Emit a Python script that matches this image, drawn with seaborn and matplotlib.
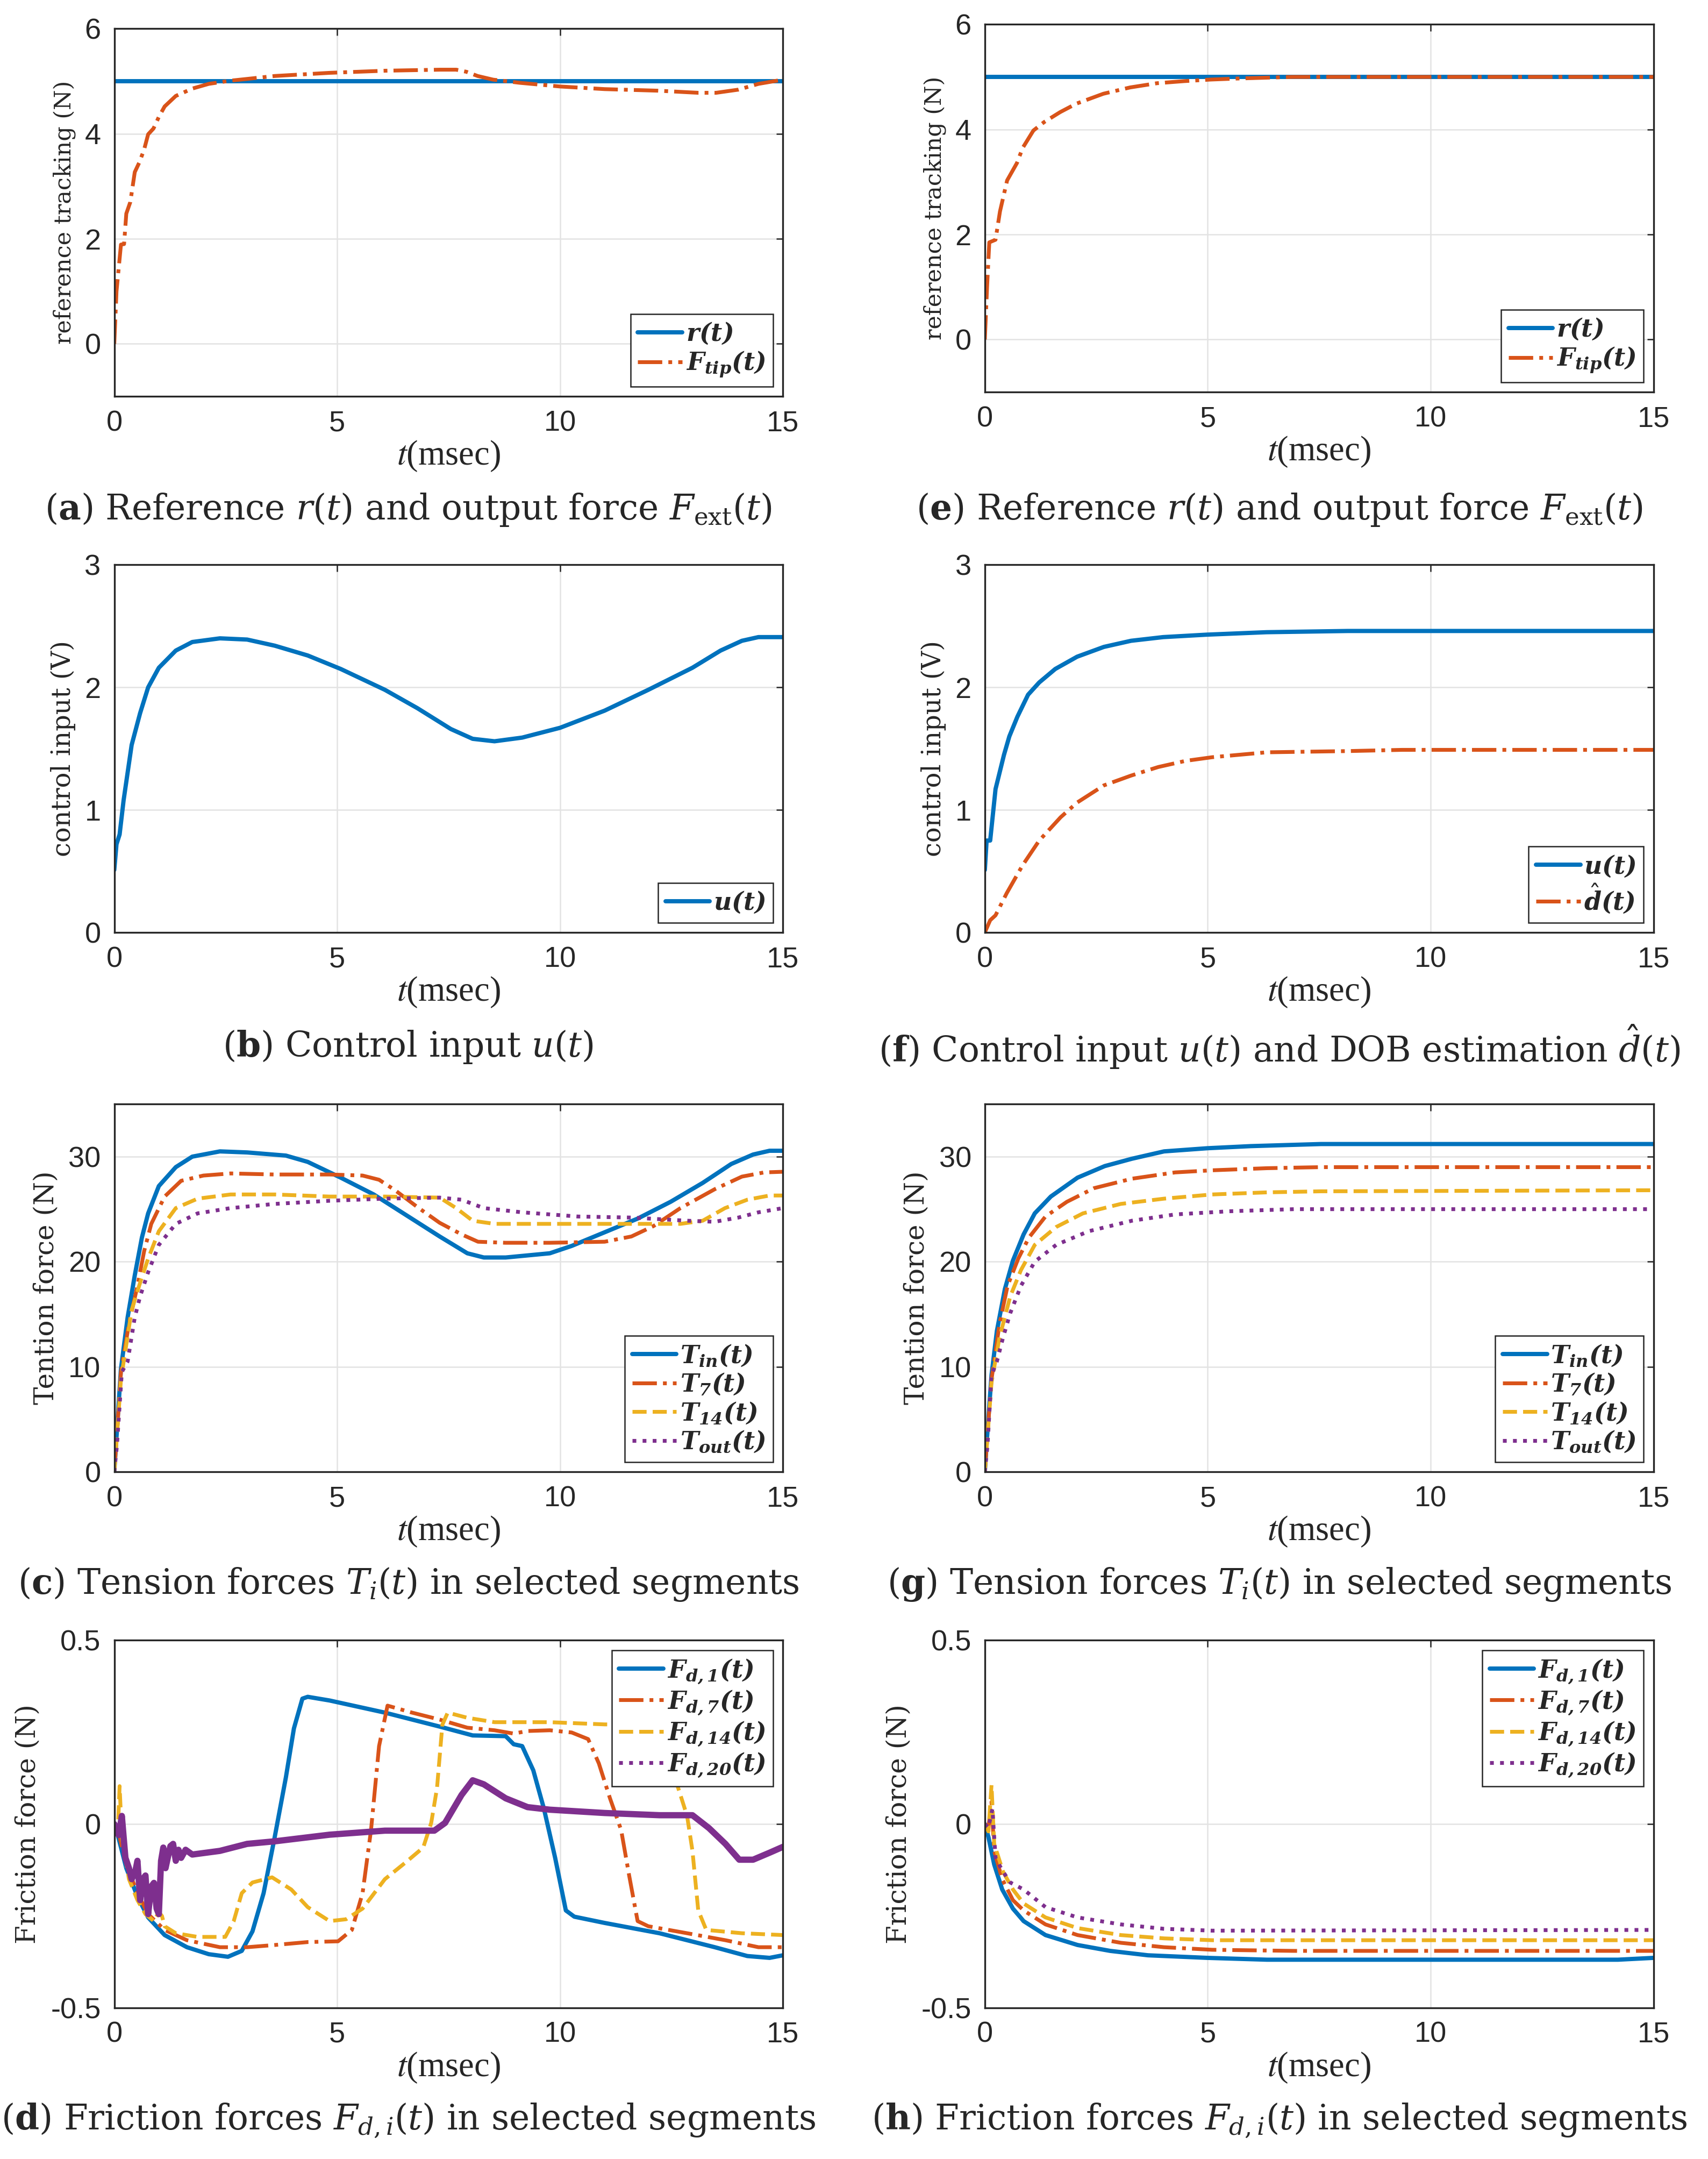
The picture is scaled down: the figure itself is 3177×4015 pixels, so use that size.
import numpy as np
import pandas as pd
import matplotlib
matplotlib.use("Agg")
import matplotlib.pyplot as plt
import seaborn as sns
from matplotlib.ticker import FuncFormatter

# ---- colours (MATLAB default order) ----
BLUE = "#0072BD"
ORANGE = "#D95319"
YELLOW = "#EDB120"
PURPLE = "#7E2F8E"

# ---- (a) reference tracking, case 1 ----
a_t_ref = [0, 15]
a_ref = [5, 5]
a_t_tip = [0, 0.05, 0.15, 0.22, 0.27, 0.36, 0.46, 0.56, 0.67, 0.76, 0.88, 1.0, 1.13, 1.38, 1.75, 2.12, 2.6,
           3.6, 4.83, 6.07, 7.3, 7.67, 7.9, 8.15, 8.5, 9.1, 10.0, 11.0, 12.2, 13.1, 13.5, 14.0, 14.45, 15.0]
a_tip = [0, 1.0, 1.89, 1.9, 2.48, 2.7, 3.27, 3.45, 3.7, 3.99, 4.1, 4.32, 4.52, 4.72, 4.86, 4.95, 5.01,
         5.1, 5.16, 5.2, 5.22, 5.22, 5.18, 5.1, 5.03, 4.97, 4.9, 4.85, 4.82, 4.78, 4.78, 4.84, 4.95, 5.03]

# ---- (e) reference tracking, case 2 ----
e_t_ref = [0, 15]
e_ref = [5, 5]
e_t_tip = [0, 0.05, 0.1, 0.24, 0.34, 0.5, 0.72, 0.85, 1.09, 1.33, 1.69, 2.05, 2.66, 3.26, 3.86, 4.47,
           5.07, 5.68, 6.9, 8.0, 15.0]
e_tip = [0, 1.0, 1.85, 1.9, 2.44, 3.03, 3.36, 3.65, 3.98, 4.14, 4.33, 4.49, 4.68, 4.8, 4.88, 4.92,
         4.95, 4.97, 5.0, 5.0, 5.0]

# ---- (b) control input, case 1 ----
b_t = [0, 0.05, 0.12, 0.21, 0.39, 0.58, 0.76, 1.0, 1.38, 1.75, 2.37, 2.98, 3.6, 4.34, 5.08, 6.07, 6.8,
       7.55, 8.04, 8.53, 9.15, 10.0, 11.0, 11.98, 12.97, 13.6, 14.08, 14.45, 15.0]
b_u = [0.51, 0.72, 0.8, 1.08, 1.53, 1.79, 2.0, 2.16, 2.3, 2.37, 2.4, 2.39, 2.34, 2.26, 2.15, 1.98, 1.83,
       1.66, 1.58, 1.56, 1.59, 1.67, 1.81, 1.98, 2.16, 2.3, 2.38, 2.41, 2.41]

# ---- (f) control input and DOB estimate, case 2 ----
f_t_u = [0, 0.04, 0.12, 0.24, 0.43, 0.55, 0.73, 0.97, 1.22, 1.58, 2.07, 2.67, 3.28, 4.0, 4.98, 6.32,
         8.14, 15.0]
f_u = [0.51, 0.75, 0.75, 1.17, 1.45, 1.6, 1.76, 1.94, 2.04, 2.15, 2.25, 2.33, 2.38, 2.41, 2.43, 2.45,
       2.46, 2.46]
f_t_d = [0, 0.12, 0.24, 0.49, 0.85, 1.22, 1.7, 2.07, 2.67, 3.28, 3.89, 4.5, 5.1, 6.32, 8.14, 9.36, 15.0]
f_d = [0, 0.1, 0.14, 0.32, 0.55, 0.75, 0.94, 1.06, 1.2, 1.28, 1.35, 1.4, 1.43, 1.47, 1.48, 1.49, 1.49]

# ---- (c) tension forces, case 1 ----
c_t_in = [0, 0.05, 0.15, 0.3, 0.46, 0.62, 0.76, 1.0, 1.38, 1.75, 2.37, 2.98, 3.85, 4.34, 5.08, 5.82,
          6.56, 7.3, 7.92, 8.29, 8.78, 9.77, 10.26, 11.0, 11.74, 12.48, 13.2, 13.84, 14.33, 14.7, 15.0]
c_in = [0, 3.3, 9.8, 14.7, 18.7, 22.3, 24.6, 27.2, 29.0, 30.0, 30.5, 30.4, 30.1, 29.5, 28.0, 26.4,
        24.4, 22.4, 20.8, 20.4, 20.4, 20.8, 21.5, 22.8, 24.1, 25.7, 27.5, 29.3, 30.2, 30.56, 30.56]
c_t_7 = [0, 0.05, 0.15, 0.33, 0.52, 0.67, 0.83, 1.13, 1.5, 2.0, 2.61, 3.6, 4.83, 5.57, 5.94, 6.3, 6.8,
         7.3, 7.79, 8.16, 8.78, 9.77, 11.0, 11.6, 12.1, 12.7, 13.47, 14.08, 14.58, 15.0]
c_7 = [0, 3.0, 9.5, 14.1, 17.7, 21.0, 23.6, 26.2, 27.7, 28.2, 28.4, 28.3, 28.3, 28.2, 27.8, 26.8, 25.2,
       23.7, 22.6, 21.9, 21.8, 21.8, 21.9, 22.4, 23.4, 25.1, 26.9, 28.1, 28.5, 28.56]
c_t_14 = [0, 0.05, 0.15, 0.39, 0.58, 0.76, 1.0, 1.38, 1.87, 2.61, 3.6, 4.83, 6.07, 7.3, 7.67, 8.04,
          8.53, 9.77, 11.0, 12.7, 13.2, 13.7, 14.2, 14.7, 15.0]
c_14 = [0, 2.8, 8.8, 15.4, 18.0, 20.3, 22.9, 25.1, 26.0, 26.4, 26.4, 26.2, 26.2, 26.1, 25.1, 23.9,
        23.6, 23.6, 23.6, 23.6, 23.9, 25.1, 25.9, 26.3, 26.3]
c_t_out = [0, 0.06, 0.17, 0.3, 0.46, 0.58, 0.76, 1.0, 1.38, 1.87, 2.61, 3.6, 4.83, 6.07, 7.3, 7.79,
           8.29, 9.15, 10.4, 11.6, 12.85, 13.47, 14.0, 14.45, 15.0]
c_out = [0, 2.5, 9.5, 10.5, 14.7, 16.7, 19.0, 21.6, 23.6, 24.6, 25.1, 25.5, 25.8, 26.0, 26.1, 25.9,
         25.1, 24.7, 24.3, 24.2, 23.9, 23.8, 24.2, 24.7, 25.1]

# ---- (g) tension forces, case 2 ----
g_t_in = [0, 0.05, 0.15, 0.27, 0.45, 0.63, 0.87, 1.12, 1.48, 2.08, 2.69, 3.3, 4.02, 4.99, 5.96, 7.54, 15.0]
g_in = [0, 3.3, 9.2, 13.4, 17.4, 20.1, 22.6, 24.6, 26.2, 28.0, 29.1, 29.8, 30.5, 30.8, 31.0, 31.2, 31.2]
g_t_7 = [0, 0.05, 0.15, 0.33, 0.51, 0.75, 0.99, 1.36, 1.84, 2.45, 3.3, 4.27, 5.1, 6.33, 7.54, 15.0]
g_7 = [0, 3.0, 8.8, 14.1, 17.7, 20.3, 22.3, 24.3, 25.7, 27.0, 27.9, 28.5, 28.7, 28.9, 29.0, 29.0]
g_t_14 = [0, 0.05, 0.15, 0.33, 0.57, 0.81, 1.12, 1.6, 2.2, 3.05, 4.02, 5.1, 6.33, 7.54, 15.0]
g_14 = [0, 2.8, 8.5, 12.8, 16.7, 19.2, 21.6, 23.3, 24.6, 25.5, 26.0, 26.4, 26.6, 26.7, 26.8]
g_t_out = [0, 0.06, 0.15, 0.27, 0.41, 0.57, 0.81, 1.12, 1.6, 2.33, 3.3, 4.27, 5.48, 6.93, 15.0]
g_out = [0, 2.5, 9.2, 10.5, 12.8, 15.1, 17.7, 20.0, 21.6, 22.9, 23.9, 24.5, 24.8, 25.0, 25.0]

# ---- (d) friction forces, case 1 ----
d_t_1 = [0, 0.09, 0.27, 0.52, 0.76, 1.13, 1.63, 2.12, 2.55, 2.86, 3.1, 3.35, 3.6, 3.85, 4.03, 4.22,
         4.34, 4.83, 6.07, 7.3, 8.04, 8.78, 8.96, 9.15, 9.4, 9.64, 9.89, 10.13, 10.32, 11.0, 12.23, 13.47,
         14.2, 14.7, 15.0]
d_1 = [0, -0.035, -0.12, -0.197, -0.254, -0.302, -0.335, -0.354, -0.361, -0.345, -0.292, -0.188,
       -0.035, 0.127, 0.26, 0.341, 0.346, 0.336, 0.303, 0.265, 0.241, 0.239, 0.217, 0.212, 0.146, 0.041,
       -0.092, -0.235, -0.252, -0.269, -0.297, -0.335, -0.359, -0.364, -0.357]
d_t_7 = [0, 0.09, 0.27, 0.52, 0.76, 1.13, 1.63, 2.37, 2.98, 3.6, 4.34, 5.02, 5.33, 5.57, 5.76, 5.94,
         6.13, 6.68, 7.3, 7.92, 8.53, 8.96, 9.27, 9.77, 10.26, 10.63, 10.87, 11.12, 11.37, 11.55, 11.74,
         11.98, 12.85, 13.71, 14.45, 15.0]
d_7 = [0, -0.02, -0.11, -0.188, -0.245, -0.288, -0.316, -0.335, -0.335, -0.329, -0.321, -0.319,
       -0.288, -0.188, -0.016, 0.212, 0.322, 0.303, 0.284, 0.262, 0.255, 0.246, 0.253, 0.255, 0.249,
       0.231, 0.165, 0.07, -0.016, -0.14, -0.264, -0.278, -0.297, -0.316, -0.335, -0.335]
d_t_14 = [0, 0.08, 0.12, 0.17, 0.33, 0.52, 0.7, 0.89, 1.0, 1.07, 1.13, 1.38, 1.87, 2.49, 2.68, 2.86,
          3.1, 3.54, 3.97, 4.34, 4.83, 5.2, 5.57, 6.07, 6.56, 6.93, 7.11, 7.24, 7.36, 7.48, 7.92, 8.53,
          9.77, 11.0, 12.23, 12.48, 12.6, 12.85, 12.97, 13.1, 13.28, 14.08, 15.0]
d_14 = [0, -0.02, 0.103, -0.035, -0.15, -0.207, -0.245, -0.264, -0.24, -0.25, -0.278, -0.297, -0.307,
        -0.307, -0.264, -0.188, -0.159, -0.145, -0.178, -0.226, -0.264, -0.259, -0.23, -0.15, -0.102,
        -0.064, 0.003, 0.098, 0.27, 0.303, 0.289, 0.277, 0.277, 0.271, 0.27, 0.193, 0.117, 0.022,
        -0.073, -0.235, -0.288, -0.297, -0.302]
d_t_20 = [0, 0.1, 0.17, 0.25, 0.33, 0.39, 0.47, 0.52, 0.58, 0.64, 0.7, 0.76, 0.83, 0.89, 0.95, 1.0,
          1.05, 1.1, 1.15, 1.2, 1.26, 1.32, 1.38, 1.44, 1.5, 1.6, 1.75, 2.37, 2.98, 3.6, 4.83, 6.07, 7.18,
          7.42, 7.79, 8.04, 8.29, 8.78, 9.27, 9.77, 11.0, 12.23, 12.97, 13.34, 13.71, 14.02, 14.33, 14.7,
          15.0]
d_20 = [0, -0.03, 0.022, -0.092, -0.12, -0.15, -0.13, -0.1, -0.207, -0.15, -0.14, -0.245, -0.17,
        -0.16, -0.23, -0.245, -0.1, -0.064, -0.12, -0.092, -0.06, -0.054, -0.1, -0.07, -0.092, -0.07,
        -0.083, -0.073, -0.054, -0.047, -0.029, -0.018, -0.018, 0.003, 0.079, 0.119, 0.108, 0.07, 0.046,
        0.039, 0.03, 0.024, 0.024, -0.011, -0.054, -0.097, -0.097, -0.078, -0.062]

# ---- (h) friction forces, case 2 ----
h_t_1 = [0, 0.08, 0.21, 0.39, 0.63, 0.87, 1.36, 2.08, 2.81, 3.66, 4.99, 6.33, 14.2, 15.0]
h_1 = [0, -0.035, -0.11, -0.178, -0.23, -0.264, -0.302, -0.329, -0.345, -0.357, -0.364, -0.369,
       -0.369, -0.364]
h_t_7 = [0, 0.08, 0.15, 0.21, 0.39, 0.63, 0.87, 1.36, 2.08, 3.05, 4.02, 5.1, 6.93, 15.0]
h_7 = [0, -0.01, 0.06, -0.073, -0.15, -0.207, -0.235, -0.273, -0.302, -0.323, -0.335, -0.342,
       -0.345, -0.345]
h_t_14 = [0, 0.08, 0.15, 0.21, 0.41, 0.63, 0.87, 1.36, 2.08, 3.05, 4.02, 5.1, 15.0]
h_14 = [0, -0.02, 0.106, -0.054, -0.13, -0.178, -0.216, -0.254, -0.283, -0.302, -0.311, -0.316, -0.316]
h_t_20 = [0, 0.08, 0.17, 0.24, 0.39, 0.57, 0.87, 1.36, 2.08, 3.05, 4.02, 5.1, 15.0]
h_20 = [0, -0.01, 0.041, -0.092, -0.126, -0.159, -0.178, -0.226, -0.254, -0.273, -0.285, -0.29, -0.288]

sns.set_theme(style="whitegrid")
plt.rcParams.update({
    "font.family": ["Liberation Sans", "DejaVu Sans"],
    "mathtext.fontset": "stix",
    "axes.unicode_minus": False,
    "axes.edgecolor": "#262626",
    "axes.linewidth": 0.8,
    "axes.facecolor": "white",
    "grid.color": "#e3e3e3",
    "grid.linewidth": 0.6,
    "xtick.color": "#262626",
    "ytick.color": "#262626",
})

fig = plt.figure(figsize=(3177 / 300, 4015 / 300), dpi=300)

left_x, right_x = 0.0669, 0.5766
ax_w = 0.3915
rows_bottom = [0.8164, 0.5681, 0.3183, 0.0700]
ax_h = 0.1703
cap_y = [0.7639, 0.5150, 0.2661, 0.0179]
cap_x = [0.239, 0.749]


def draw(ax, series, ylim, yticks, ylabel, legend_loc, ylabel_size=10.5):
    for t, y, color, ls, lw, label in series:
        df = pd.DataFrame({"t": t, "y": y})
        sns.lineplot(data=df, x="t", y="y", ax=ax, color=color, linestyle=ls, linewidth=lw,
                     estimator=None, sort=False, label=label)
    ax.set_xlim(0, 15)
    ax.set_ylim(*ylim)
    ax.set_xticks([0, 5, 10, 15])
    ax.set_yticks(yticks)
    ax.yaxis.set_major_formatter(FuncFormatter(lambda v, p: f"{v:g}"))
    ax.tick_params(direction="in", top=True, right=True, length=3, width=0.6, labelsize=13, pad=6)
    ax.grid(True)
    for s in ax.spines.values():
        s.set_visible(True)
        s.set_color("#262626")
        s.set_linewidth(0.8)
    ax.set_xlabel(r"$t$(msec)", fontsize=15.5, family="Liberation Serif", labelpad=1)
    ax.set_ylabel(ylabel, fontsize=ylabel_size, family="DejaVu Serif", labelpad=4)
    leg = ax.legend(loc=legend_loc, fontsize=11, frameon=True, fancybox=False, framealpha=1,
                    edgecolor="#262626", handlelength=1.8, handletextpad=0.15, borderpad=0.3,
                    labelspacing=0.15, borderaxespad=0.4)
    leg.get_frame().set_linewidth(0.6)
    for txt in leg.get_texts():
        txt.set_math_fontfamily("dejavuserif")


def caption(col, row, text):
    fig.text(cap_x[col], cap_y[row], text, ha="center", va="center", fontsize=15.5,
             family="DejaVu Serif", math_fontfamily="dejavuserif")


# row 1
ax = fig.add_axes([left_x, rows_bottom[0], ax_w, ax_h])
draw(ax, [(a_t_ref, a_ref, BLUE, "-", 1.9, r"$\mathbfit{r(t)}$"),
          (a_t_tip, a_tip, ORANGE, "-.", 1.7, r"$\mathbfit{F_{tip}(t)}$")],
     (-1, 6), [0, 2, 4, 6], "reference tracking (N)", "lower right", 10.3)
caption(0, 0, r"($\mathbf{a}$) Reference $r(t)$ and output force $F_{\mathrm{ext}}(t)$")

ax = fig.add_axes([right_x, rows_bottom[0] + 0.002, ax_w, ax_h])
draw(ax, [(e_t_ref, e_ref, BLUE, "-", 1.9, r"$\mathbfit{r(t)}$"),
          (e_t_tip, e_tip, ORANGE, "-.", 1.7, r"$\mathbfit{F_{tip}(t)}$")],
     (-1, 6), [0, 2, 4, 6], "reference tracking (N)", "lower right", 10.3)
caption(1, 0, r"($\mathbf{e}$) Reference $r(t)$ and output force $F_{\mathrm{ext}}(t)$")

# row 2
ax = fig.add_axes([left_x, rows_bottom[1], ax_w, ax_h])
draw(ax, [(b_t, b_u, BLUE, "-", 1.9, r"$\mathbfit{u(t)}$")],
     (0, 3), [0, 1, 2, 3], "control input (V)", "lower right", 11.5)
caption(0, 1, r"($\mathbf{b}$) Control input $u(t)$")

ax = fig.add_axes([right_x, rows_bottom[1], ax_w, ax_h])
draw(ax, [(f_t_u, f_u, BLUE, "-", 1.9, r"$\mathbfit{u(t)}$"),
          (f_t_d, f_d, ORANGE, "-.", 1.7, r"$\hat{\mathbfit{d}}\mathbfit{(t)}$")],
     (0, 3), [0, 1, 2, 3], "control input (V)", "lower right", 11.5)
caption(1, 1, r"($\mathbf{f}$) Control input $u(t)$ and DOB estimation $\hat{d}(t)$")

# row 3
T_labels = [r"$\mathbfit{T_{in}(t)}$", r"$\mathbfit{T_{7}(t)}$", r"$\mathbfit{T_{14}(t)}$",
            r"$\mathbfit{T_{out}(t)}$"]
ax = fig.add_axes([left_x, rows_bottom[2], ax_w, ax_h])
draw(ax, [(c_t_in, c_in, BLUE, "-", 1.9, T_labels[0]),
          (c_t_7, c_7, ORANGE, "-.", 1.7, T_labels[1]),
          (c_t_14, c_14, YELLOW, "--", 1.7, T_labels[2]),
          (c_t_out, c_out, PURPLE, ":", 1.7, T_labels[3])],
     (0, 35), [0, 10, 20, 30], "Tention force (N)", "lower right", 12)
caption(0, 2, r"($\mathbf{c}$) Tension forces $T_i(t)$ in selected segments")

ax = fig.add_axes([right_x, rows_bottom[2], ax_w, ax_h])
draw(ax, [(g_t_in, g_in, BLUE, "-", 1.9, T_labels[0]),
          (g_t_7, g_7, ORANGE, "-.", 1.7, T_labels[1]),
          (g_t_14, g_14, YELLOW, "--", 1.7, T_labels[2]),
          (g_t_out, g_out, PURPLE, ":", 1.7, T_labels[3])],
     (0, 35), [0, 10, 20, 30], "Tention force (N)", "lower right", 12)
caption(1, 2, r"($\mathbf{g}$) Tension forces $T_i(t)$ in selected segments")

# row 4
F_labels = [r"$\mathbfit{F_{d,1}(t)}$", r"$\mathbfit{F_{d,7}(t)}$", r"$\mathbfit{F_{d,14}(t)}$",
            r"$\mathbfit{F_{d,20}(t)}$"]
ax = fig.add_axes([left_x, rows_bottom[3], ax_w, ax_h])
draw(ax, [(d_t_1, d_1, BLUE, "-", 1.9, F_labels[0]),
          (d_t_7, d_7, ORANGE, "-.", 1.7, F_labels[1]),
          (d_t_14, d_14, YELLOW, "--", 1.7, F_labels[2]),
          (d_t_20, d_20, PURPLE, "-", 2.8, F_labels[3])],
     (-0.5, 0.5), [-0.5, 0, 0.5], "Friction force (N)", "upper right", 12)
ax.get_legend().get_lines()[3].set_linestyle(":")
ax.get_legend().get_lines()[3].set_linewidth(1.7)
caption(0, 3, r"($\mathbf{d}$) Friction forces $F_{d,i}(t)$ in selected segments")

ax = fig.add_axes([right_x, rows_bottom[3], ax_w, ax_h])
draw(ax, [(h_t_1, h_1, BLUE, "-", 1.9, F_labels[0]),
          (h_t_7, h_7, ORANGE, "-.", 1.7, F_labels[1]),
          (h_t_14, h_14, YELLOW, "--", 1.7, F_labels[2]),
          (h_t_20, h_20, PURPLE, ":", 1.7, F_labels[3])],
     (-0.5, 0.5), [-0.5, 0, 0.5], "Friction force (N)", "upper right", 12)
caption(1, 3, r"($\mathbf{h}$) Friction forces $F_{d,i}(t)$ in selected segments")

fig.savefig("out.png", dpi=300)
